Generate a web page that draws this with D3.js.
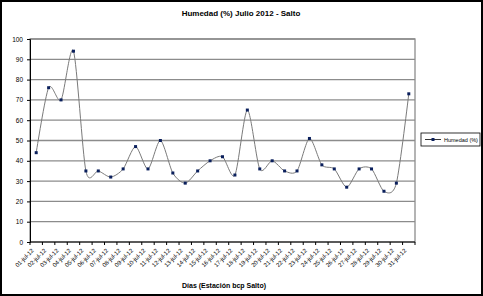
<!DOCTYPE html>
<html>
<head>
<meta charset="utf-8">
<script src="https://cdn.jsdelivr.net/npm/d3@7"></script>
<style>
  body { margin: 0; background: #fff; }
  svg { display: block; font-family: "Liberation Sans", Arial, sans-serif; }
</style>
</head>
<body>
<svg width="483" height="296"></svg>
<script>
// daily humidity, July 2012, Salto
const days = ["01-jul-12","02-jul-12","03-jul-12","04-jul-12","05-jul-12","06-jul-12","07-jul-12","08-jul-12",
  "09-jul-12","10-jul-12","11-jul-12","12-jul-12","13-jul-12","14-jul-12","15-jul-12","16-jul-12",
  "17-jul-12","18-jul-12","19-jul-12","20-jul-12","21-jul-12","22-jul-12","23-jul-12","24-jul-12",
  "25-jul-12","26-jul-12","27-jul-12","28-jul-12","29-jul-12","30-jul-12","31-jul-12"];
const humedad = [44,76,70,94,35,35,32,36,47,36,50,34,29,35,40,42,33,65,36,40,35,35,51,38,36,27,36,36,25,29,73];
const yTicks = [0,10,20,30,40,50,60,70,80,90,100];

const svg = d3.select("svg");
const W = 483, H = 296;
const m = { left: 30, right: 415, top: 39, bottom: 242 };

// outer frame
svg.append("rect").attr("x", 1).attr("y", 1).attr("width", W - 2).attr("height", H - 2)
  .attr("fill", "#fff").attr("stroke", "#000").attr("stroke-width", 2);

const x = d3.scaleBand().domain(days).range([m.left, m.right]);
const y = d3.scaleLinear().domain([0, 100]).range([m.bottom, m.top]);

// gridlines
svg.append("g").selectAll("line").data(yTicks.slice(1)).enter().append("line")
  .attr("x1", m.left).attr("x2", m.right)
  .attr("y1", d => y(d)).attr("y2", d => y(d))
  .attr("stroke", "#8c8c8c").attr("stroke-width", 1.3);

// plot border
svg.append("rect").attr("x", m.left).attr("y", m.top)
  .attr("width", m.right - m.left).attr("height", m.bottom - m.top)
  .attr("fill", "none").attr("stroke", "#8c8c8c").attr("stroke-width", 1.3);

// y axis
const yAxis = svg.append("g").attr("transform", `translate(${m.left},0)`)
  .call(d3.axisLeft(y).tickValues(yTicks).tickSize(3).tickPadding(4));
yAxis.select(".domain").attr("stroke", "#000");
yAxis.selectAll("text").attr("font-size", 6.5).attr("fill", "#000");

// x axis: ticks at category boundaries
const xg = svg.append("g").attr("transform", `translate(0,${m.bottom})`);
xg.append("line").attr("x1", m.left).attr("x2", m.right).attr("stroke", "#000");
xg.selectAll(".tk").data(d3.range(days.length + 1)).enter().append("line")
  .attr("x1", i => m.left + i * x.step()).attr("x2", i => m.left + i * x.step())
  .attr("y1", 0).attr("y2", 3).attr("stroke", "#000");
xg.selectAll("text").data(days).enter().append("text")
  .attr("transform", d => `translate(${x(d) + x.bandwidth() / 2 - 2},9) rotate(-45)`)
  .attr("text-anchor", "end").attr("font-size", 6).attr("fill", "#000")
  .text(d => d);

// smoothed series
const line = d3.line()
  .x((d, i) => x(days[i]) + x.bandwidth() / 2)
  .y(d => y(d))
  .curve(d3.curveCardinal.tension(0.2));
svg.append("path").datum(humedad).attr("d", line)
  .attr("fill", "none").attr("stroke", "#7a7a7a").attr("stroke-width", 1);

svg.append("g").selectAll("rect").data(humedad).enter().append("rect")
  .attr("x", (d, i) => x(days[i]) + x.bandwidth() / 2 - 1.5)
  .attr("y", d => y(d) - 1.5)
  .attr("width", 3).attr("height", 3)
  .attr("fill", "#0a1f5c");

// titles
svg.append("text").attr("x", 241).attr("y", 16).attr("text-anchor", "middle")
  .attr("font-size", 8).attr("font-weight", "bold").text("Humedad (%) Julio 2012 - Salto");
svg.append("text").attr("x", 224).attr("y", 288).attr("text-anchor", "middle")
  .attr("font-size", 7).attr("font-weight", "bold").text("Días (Estación bcp Salto)");

// legend
const lg = svg.append("g").attr("transform", "translate(421,133)");
lg.append("rect").attr("width", 59).attr("height", 13)
  .attr("fill", "#fff").attr("stroke", "#000").attr("stroke-width", 0.8);
lg.append("line").attr("x1", 4).attr("x2", 20).attr("y1", 6.5).attr("y2", 6.5)
  .attr("stroke", "#000").attr("stroke-width", 0.8);
lg.append("rect").attr("x", 10.5).attr("y", 5).attr("width", 3).attr("height", 3).attr("fill", "#0a1f5c");
lg.append("text").attr("x", 23).attr("y", 8.8).attr("font-size", 5.5).text("Humedad (%)");
</script>
</body>
</html>
